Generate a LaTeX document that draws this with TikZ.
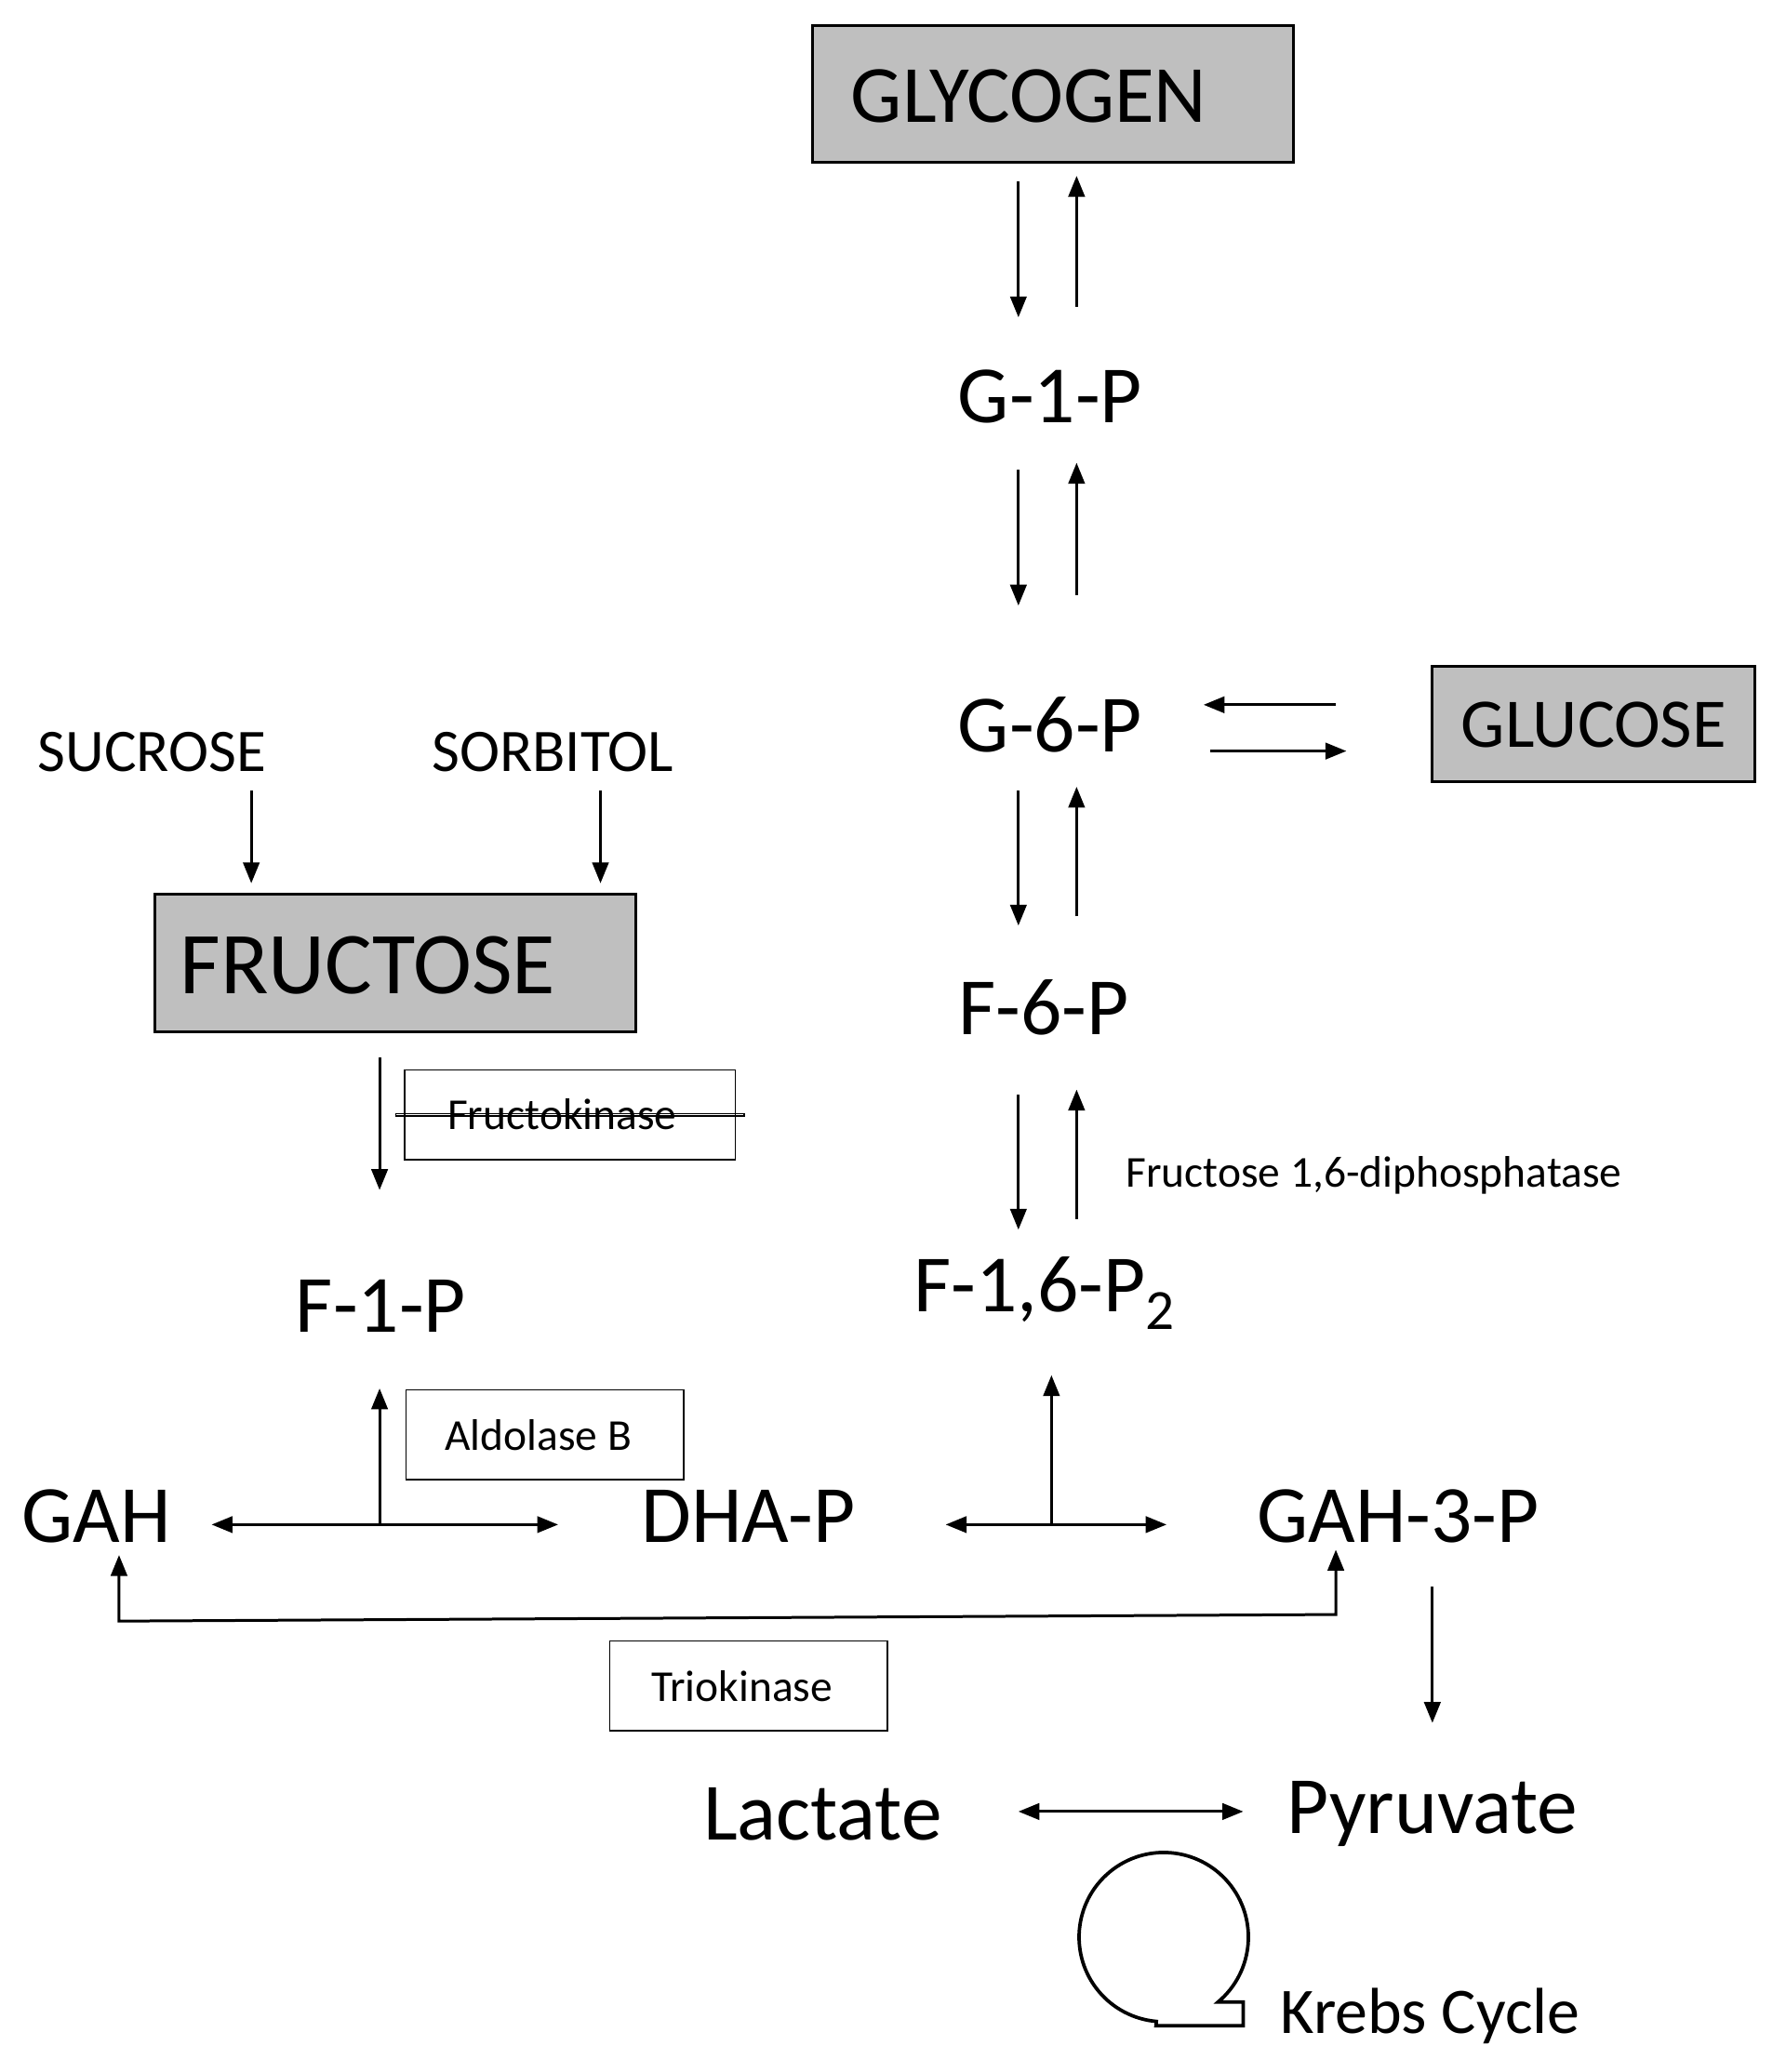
\documentclass[tikz,border=0pt]{standalone}
\usepackage{fontspec}
\setmainfont{Carlito}
\usetikzlibrary{arrows.meta}
\begin{document}
\begin{tikzpicture}[x=0.02cm,y=0.02cm,
  ar/.style={line width=1.2pt,-{Triangle[length=9pt,width=7pt]}},
  dar/.style={line width=1.2pt,{Triangle[length=9pt,width=7pt]}-{Triangle[length=9pt,width=7pt]}},
  big/.style={font=\fontsize{35}{40}\selectfont,inner sep=0pt},
  mid/.style={font=\fontsize{26}{30}\selectfont,inner sep=0pt},
  gbox/.style={draw,line width=1.2pt,fill=black!25},
  ebox/.style={draw,line width=0.6pt,font=\fontsize{19}{22}\selectfont}]
\useasboundingbox (0,0) rectangle (1350,-1567);
\fill[white] (0,0) rectangle (1350,-1567);
% boxes
\draw[gbox] (614,-19) rectangle (978,-123);
\node[big] (glyc) at (778,-73) {GLYCOGEN};
\draw[gbox] (1083,-504) rectangle (1327,-591);
\node[mid,font=\fontsize{30}{34}\selectfont] (gluc) at (1205,-548) {GLUCOSE};
\draw[gbox] (117,-676) rectangle (481,-780);
\node[big,font=\fontsize{38}{44}\selectfont] (fruc) at (278,-730) {FRUCTOSE};
% metabolite labels
\node[big] (g1p) at (794,-300) {G-1-P};
\node[big] (g6p) at (794,-548) {G-6-P};
\node[big] (f6p) at (789,-762) {F-6-P};
\node[big] (f16) at (790,-978) {F-1,6-P\textsubscript{2}};
\node[mid] (suc) at (115,-569) {SUCROSE};
\node[mid] (sor) at (418,-569) {SORBITOL};
\node[big] (f1p) at (288,-988) {F-1-P};
\node[big] (gah) at (73,-1147) {GAH};
\node[big] (dhap) at (566,-1147) {DHA-P};
\node[big] (gah3p) at (1057,-1147) {GAH-3-P};
\node[big] (lac) at (622,-1372) {Lactate};
\node[big] (pyr) at (1083,-1372) {Pyruvate};
\node[mid,font=\fontsize{28}{32}\selectfont,anchor=west] (krebs) at (968,-1525) {Krebs Cycle};
\node[font=\fontsize{19}{22}\selectfont,anchor=west,inner sep=0pt] (fdp) at (851,-889) {Fructose 1,6-diphosphatase};
% enzyme boxes
\node[ebox,minimum width=250\pgflinewidth,inner sep=0pt] (fk) at (431,-843) {};
\draw[line width=0.6pt] (306,-809) rectangle (556,-877);
\node[font=\fontsize{19}{22}\selectfont] at (425,-843) {Fructokinase};
\draw[line width=0.6pt] (307,-1051) rectangle (517,-1119);
\node[font=\fontsize{19}{22}\selectfont] (ald) at (407,-1085) {Aldolase B};
\draw[line width=0.6pt] (461,-1241) rectangle (671,-1309);
\node[font=\fontsize{19}{22}\selectfont] (tri) at (561,-1275) {Triokinase};
% coordinates for arrows
\coordinate (a1) at (770,-137); \coordinate (a2) at (770,-240);
\coordinate (b1) at (814,-232); \coordinate (b2) at (814,-133);
\draw[ar] (a1) -- (a2); \draw[ar] (b1) -- (b2);
\coordinate (a3) at (770,-355); \coordinate (a4) at (770,-458);
\coordinate (b3) at (814,-450); \coordinate (b4) at (814,-350);
\draw[ar] (a3) -- (a4); \draw[ar] (b3) -- (b4);
\coordinate (a5) at (770,-598); \coordinate (a6) at (770,-700);
\coordinate (b5) at (814,-693); \coordinate (b6) at (814,-595);
\draw[ar] (a5) -- (a6); \draw[ar] (b5) -- (b6);
\coordinate (a7) at (770,-828); \coordinate (a8) at (770,-930);
\coordinate (b7) at (814,-922); \coordinate (b8) at (814,-824);
\draw[ar] (a7) -- (a8); \draw[ar] (b7) -- (b8);
\coordinate (h1) at (1010,-533); \coordinate (h2) at (910,-533);
\coordinate (h3) at (915,-568); \coordinate (h4) at (1018,-568);
\draw[ar] (h1) -- (h2); \draw[ar] (h3) -- (h4);
\coordinate (s1) at (190,-598); \coordinate (s2) at (190,-668);
\coordinate (t1) at (454,-598); \coordinate (t2) at (454,-668);
\draw[ar] (s1) -- (s2); \draw[ar] (t1) -- (t2);
\coordinate (k1) at (287,-800); \coordinate (k2) at (287,-900);
\draw[ar] (k1) -- (k2);
\coordinate (l1) at (160,-1153); \coordinate (l2) at (422,-1153);
\coordinate (l3) at (287,-1153); \coordinate (l4) at (287,-1050);
\draw[dar] (l1) -- (l2); \draw[ar] (l3) -- (l4);
\coordinate (m1) at (715,-1153); \coordinate (m2) at (882,-1153);
\coordinate (m3) at (795,-1153); \coordinate (m4) at (795,-1040);
\draw[dar] (m1) -- (m2); \draw[ar] (m3) -- (m4);
\coordinate (n1) at (90,-1176); \coordinate (n2) at (1010,-1172);
\draw[dar] (n1) -- (90,-1226) -- (1010,-1221) -- (n2);
\coordinate (p1) at (1083,-1200); \coordinate (p2) at (1083,-1303);
\draw[ar] (p1) -- (p2);
\coordinate (q1) at (770,-1370); \coordinate (q2) at (940,-1370);
\draw[dar] (q1) -- (q2);
% Krebs loop
\draw[line width=1.5pt] (921,-1514) arc[start angle=-50,end angle=265,radius=64] -- (874,-1532) -- (940,-1532) -- (940,-1514) -- cycle;
\end{tikzpicture}
\end{document}
